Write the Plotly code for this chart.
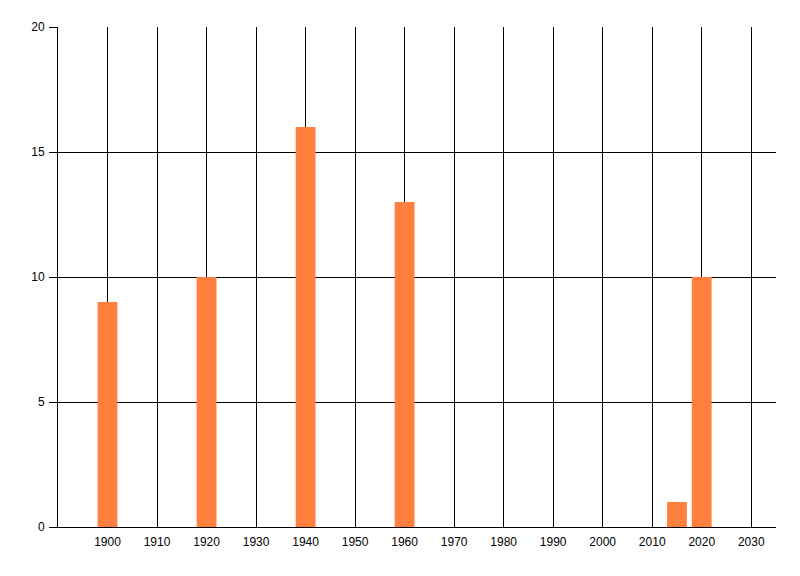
import plotly.graph_objects as go

years = [1900, 1920, 1940, 1960, 2015, 2020]
values = [9, 10, 16, 13, 1, 10]
x_ticks = list(range(1900, 2031, 10))
y_ticks = [0, 5, 10, 15, 20]

fig = go.Figure()
fig.add_trace(go.Bar(
    x=years, y=values, width=4,
    marker=dict(color="#FF7F3F", line=dict(width=0)),
))

# page body has an 8px default margin, so margins are shifted to compensate
fig.update_layout(
    width=800, height=576,
    margin=dict(l=50, r=32, t=19, b=57, autoexpand=False),
    paper_bgcolor="white", plot_bgcolor="white",
    showlegend=False,
    font=dict(family="Liberation Sans", size=12, color="black"),
    xaxis=dict(
        range=[1890, 2035],
        tickvals=x_ticks,
        ticktext=[str(v) for v in x_ticks],
        showgrid=True, gridcolor="black", gridwidth=1,
        showline=True, linecolor="black", linewidth=1,
        ticks="", ticklabelstandoff=4,
        zeroline=False, automargin=False,
    ),
    yaxis=dict(
        range=[0, 20],
        tickvals=y_ticks,
        showgrid=True, gridcolor="black", gridwidth=1,
        showline=True, linecolor="black", linewidth=1,
        ticks="outside", ticklen=8, tickcolor="black", tickwidth=1,
        ticklabelstandoff=2,
        zeroline=False, automargin=False,
    ),
)

fig.write_html("out.html")
